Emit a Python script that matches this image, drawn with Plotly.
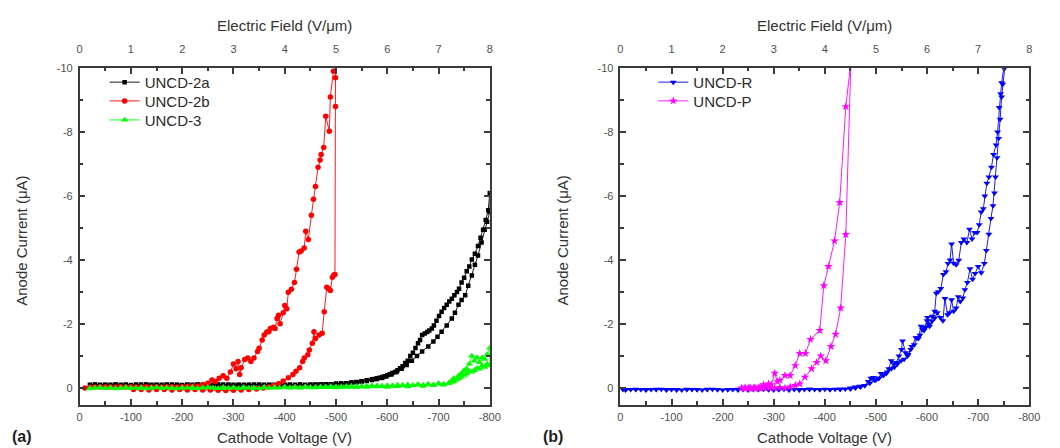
import plotly.graph_objects as go

# ---------------- data ----------------
# Panel (a)
V_2a = [-20, -30, -40, -50, -60, -70, -80, -90, -100, -110, -120, -130, -140, -150, -160, -170, -180, -190, -200,
        -210, -220, -230, -240, -250, -260, -270, -280, -290, -300, -310, -320, -330, -340, -350, -360, -370, -380,
        -390, -400, -410, -420, -430, -440, -450, -460, -470, -480, -490, -500, -510, -520, -530, -540, -550, -560,
        -570, -580, -590, -598, -608, -618, -628, -638, -648, -658, -668, -680, -690, -698, -706, -716, -726, -732,
        -739, -745, -752, -758, -765, -771, -777, -784, -790, -795, -800,
        -800, -797, -792, -787, -782, -777, -771, -765, -760, -755, -750, -745, -740, -736, -731, -726, -721, -716,
        -711, -706, -701, -696, -691, -687, -682, -678, -673, -668, -664, -660, -655, -650, -645, -640, -635, -630,
        -625, -620, -615, -610, -605, -600, -595, -590, -585, -580, -575, -570, -560, -550, -540, -530, -520, -510,
        -500, -490, -480, -470, -460, -450, -430, -410, -390, -370, -350, -330, -310, -290, -270, -250, -230, -210,
        -190, -170, -150, -130, -110, -90, -70, -50, -30]
I_2a = [-0.10, -0.11, -0.10, -0.09, -0.10, -0.11, -0.10, -0.10, -0.09, -0.10, -0.11, -0.10, -0.10, -0.09, -0.10,
        -0.10, -0.11, -0.10, -0.09, -0.10, -0.10, -0.11, -0.10, -0.10, -0.09, -0.10, -0.11, -0.10, -0.10, -0.09,
        -0.10, -0.10, -0.11, -0.10, -0.10, -0.09, -0.10, -0.11, -0.10, -0.10, -0.10, -0.11, -0.10, -0.10, -0.11,
        -0.11, -0.12, -0.12, -0.13, -0.14, -0.15, -0.16, -0.18, -0.20, -0.22, -0.25, -0.28, -0.31, -0.36, -0.42,
        -0.50, -0.60, -0.72, -0.85, -1.00, -1.14, -1.30, -1.45, -1.60, -1.76, -1.95, -2.17, -2.35, -2.60, -2.75,
        -2.90, -3.20, -3.52, -3.85, -4.14, -4.55, -4.95, -5.20, -5.50,
        -6.10, -5.56, -5.25, -4.95, -4.70, -4.44, -4.20, -4.02, -3.80, -3.65, -3.45, -3.30, -3.10, -3.00, -2.90,
        -2.79, -2.70, -2.60, -2.50, -2.38, -2.25, -2.10, -1.95, -1.86, -1.80, -1.75, -1.70, -1.66, -1.50, -1.40,
        -1.25, -1.10, -1.00, -0.85, -0.78, -0.68, -0.62, -0.55, -0.50, -0.47, -0.43, -0.40, -0.37, -0.34, -0.32,
        -0.30, -0.28, -0.27, -0.24, -0.21, -0.19, -0.17, -0.15, -0.14, -0.13, -0.12, -0.11, -0.11, -0.10, -0.10,
        -0.10, -0.10, -0.11, -0.10, -0.10, -0.09, -0.10, -0.10, -0.11, -0.10, -0.10, -0.10, -0.09, -0.10, -0.10,
        -0.11, -0.10, -0.10, -0.10, -0.10, -0.10]

V_2b = [-10, -20, -30, -40, -50, -60, -70, -80, -90, -100, -110, -120, -130, -140, -150, -160, -170, -180, -190,
        -200, -210, -220, -230, -240, -250, -258, -265, -272, -280, -287, -294, -300, -305, -309, -312, -315, -322,
        -328, -334, -340, -347, -350, -356, -360, -365, -369, -372, -378, -381, -385, -388, -391, -397, -400, -404,
        -407, -413, -419, -423, -428, -432, -438, -441, -446, -452, -456, -460, -465, -469, -471, -476, -480, -487,
        -489, -495, -498, -499, -499, -498, -496, -493, -489, -486, -482, -477, -473, -467, -460, -457, -454, -448,
        -445, -438, -435, -429, -422, -416, -407, -397, -388, -378, -368, -358, -345, -330, -315, -300, -285, -270,
        -255, -240, -225, -210, -195, -180, -165, -150, -135, -120, -105]
I_2b = [0.00, -0.02, -0.03, -0.03, -0.04, -0.03, -0.03, -0.04, -0.03, -0.04, -0.03, -0.03, -0.04, -0.03, -0.04,
        -0.03, -0.04, -0.04, -0.03, -0.04, -0.05, -0.05, -0.06, -0.10, -0.15, -0.25, -0.20, -0.30, -0.38, -0.30,
        -0.50, -0.75, -0.60, -0.83, -0.42, -0.63, -0.89, -0.94, -0.83, -0.94, -1.14, -1.24, -1.50, -1.66, -1.75,
        -1.76, -1.86, -1.90, -1.86, -2.17, -2.27, -2.01, -2.35, -2.58, -2.48, -2.99, -3.09, -3.30, -3.71, -4.25,
        -4.28, -4.38, -4.90, -4.64, -5.40, -5.90, -6.30, -6.90, -7.13, -7.30, -7.52, -8.50, -8.03, -9.10, -9.90,
        -10.40, -9.70, -8.80, -3.55, -3.53, -3.46, -3.05, -3.10, -3.15, -2.38, -1.71, -1.66, -1.55, -1.76, -1.40,
        -1.19, -1.04, -0.94, -0.83, -0.63, -0.52, -0.42, -0.32, -0.22, -0.13, -0.08, -0.03, 0.00, 0.03, 0.05,
        0.06, 0.07, 0.08, 0.07, 0.06, 0.06, 0.05, 0.06, 0.05, 0.06, 0.05, 0.05, 0.06, 0.05, 0.05]

V_3 = [-20, -30, -40, -50, -60, -70, -80, -90, -100, -110, -120, -130, -140, -150, -160, -170, -180, -190, -200,
       -210, -220, -230, -240, -250, -260, -270, -280, -290, -300, -310, -320, -330, -340, -350, -360, -370, -380,
       -390, -400, -410, -420, -430, -440, -450, -460, -470, -480, -490, -500, -510, -520, -530, -540, -550, -560,
       -570, -580, -590, -600, -610, -620, -630, -640, -650, -660, -670, -680, -690, -700, -710, -720, -725, -730,
       -735, -740, -745, -750, -755, -760, -765, -770, -775, -780, -785, -790, -795, -800,
       -800, -795, -790, -785, -780, -775, -770, -765, -760, -755, -750, -745, -740, -735, -730, -725, -720, -710,
       -700, -690, -680, -670, -660, -650, -640, -630, -620, -610, -600, -590, -580, -570, -560, -550, -540, -530,
       -520, -510, -500, -490, -480, -470, -460, -450, -440, -430, -420, -410, -400, -380, -360, -340, -320, -300,
       -280, -260, -240, -220, -200, -180, -160, -140, -120, -100, -80, -60, -40, -20]
I_3 = [0.02, 0.00, -0.02, 0.01, -0.01, 0.02, 0.00, -0.02, 0.01, 0.00, -0.01, 0.02, 0.00, -0.02, 0.01, -0.01, 0.00,
       0.02, -0.01, 0.00, -0.02, 0.01, 0.00, -0.02, 0.00, 0.01, -0.02, 0.00, -0.01, 0.01, -0.02, 0.00, -0.01, 0.01,
       -0.03, 0.00, -0.02, 0.00, -0.03, -0.01, -0.03, 0.00, -0.04, -0.02, -0.01, -0.04, -0.02, -0.05, -0.01, -0.04,
       -0.03, -0.06, -0.02, -0.05, -0.03, -0.07, -0.04, -0.06, -0.03, -0.07, -0.05, -0.09, -0.04, -0.08, -0.10,
       -0.06, -0.12, -0.08, -0.13, -0.10, -0.15, -0.22, -0.30, -0.28, -0.40, -0.45, -0.55, -0.60, -0.75, -1.00,
       -0.85, -0.95, -0.80, -0.95, -0.90, -1.05, -1.25,
       -0.70, -0.75, -0.65, -0.70, -0.60, -0.62, -0.55, -0.50, -0.52, -0.45, -0.40, -0.35, -0.30, -0.25, -0.20,
       -0.18, -0.15, -0.12, -0.14, -0.10, -0.12, -0.09, -0.11, -0.08, -0.10, -0.07, -0.09, -0.06, -0.08, -0.05,
       -0.07, -0.05, -0.06, -0.04, -0.05, -0.03, -0.05, -0.03, -0.04, -0.02, -0.04, -0.02, -0.03, -0.01, -0.03,
       -0.01, -0.02, 0.00, -0.02, 0.00, -0.01, 0.01, 0.00, -0.01, 0.01, 0.00, -0.01, 0.01, 0.00, 0.01, -0.01,
       0.00, 0.01, 0.00, 0.01, -0.01, 0.00, 0.01]

# Panel (b)
V_R = [-5, -10, -20, -30, -40, -50, -60, -70, -80, -90, -100, -110, -120, -130, -140, -150, -160, -170, -180, -190,
       -200, -210, -220, -230, -240, -250, -260, -270, -280, -290, -300, -310, -320, -330, -340, -350, -360, -370,
       -380, -390, -400, -410, -420, -430, -440, -450, -460, -470, -478, -485, -490, -495, -500, -505, -510, -515,
       -520, -525, -530, -535, -540, -545, -550, -552, -558, -563, -570, -578, -583, -588, -594, -597, -601, -604,
       -610, -615, -618, -622, -627, -632, -637, -641, -645, -648, -652, -657, -662, -667, -672, -678, -683, -688,
       -693, -698, -702, -706, -710, -713, -717, -721, -726, -730, -735, -738, -741, -744, -746, -750,
       -752, -748, -746, -743, -740, -737, -734, -732, -729, -725, -721, -716, -712, -706, -700, -694, -689, -684,
       -679, -674, -670, -665, -661, -657, -652, -648, -644, -640, -635, -631, -626, -620, -615, -610, -605, -600,
       -595, -591, -586, -581, -575, -568, -562, -555, -549, -542, -536, -530, -522, -514, -506, -497, -488, -478,
       -468, -459, -450, -430, -410, -390, -370, -350, -330, -310, -290, -270, -250, -230, -210, -190, -170, -150,
       -130, -110, -90, -70, -50, -30, -10]
I_R = [0.05, 0.06, 0.05, 0.04, 0.05, 0.06, 0.05, 0.05, 0.04, 0.06, 0.05, 0.05, 0.06, 0.04, 0.05, 0.05, 0.06, 0.05,
       0.04, 0.05, 0.06, 0.05, 0.05, 0.04, 0.05, 0.06, 0.05, 0.05, 0.04, 0.05, 0.06, 0.05, 0.04, 0.05, 0.05, 0.06,
       0.05, 0.04, 0.05, 0.05, 0.04, 0.05, 0.04, 0.04, 0.03, 0.03, 0.00, -0.03, -0.08, -0.20, -0.30, -0.33, -0.25,
       -0.30, -0.45, -0.40, -0.45, -0.60, -0.85, -0.75, -0.80, -1.00, -1.20, -1.47, -1.10, -1.05, -1.30, -1.57,
       -1.55, -1.93, -1.80, -1.88, -2.20, -1.99, -2.24, -2.40, -2.96, -3.01, -3.11, -3.55, -3.63, -3.89, -4.00,
       -4.50, -3.90, -3.85, -3.99, -4.55, -4.66, -4.55, -4.96, -4.66, -4.86, -4.86, -5.10, -5.50, -5.60, -6.00,
       -6.40, -6.60, -6.90, -7.30, -7.60, -8.00, -8.77, -9.20, -9.54, -10.00,
       -10.00, -9.50, -9.10, -8.40, -7.80, -7.20, -6.60, -6.10, -5.70, -5.30, -4.81, -4.30, -3.89, -3.60, -3.80,
       -3.58, -3.40, -3.73, -3.30, -3.07, -2.81, -2.70, -2.85, -2.50, -2.40, -2.76, -2.35, -2.29, -2.80, -2.10,
       -2.20, -2.35, -2.19, -2.09, -1.93, -2.10, -1.90, -1.83, -1.65, -1.57, -1.35, -1.20, -1.00, -0.90, -0.85,
       -0.75, -0.65, -0.60, -0.50, -0.40, -0.30, -0.24, -0.15, -0.08, -0.05, -0.03, 0.00, 0.04, 0.05, 0.05, 0.04,
       0.05, 0.06, 0.05, 0.05, 0.04, 0.05, 0.06, 0.05, 0.05, 0.04, 0.05, 0.05, 0.06, 0.05, 0.04, 0.05, 0.05, 0.05]

V_P = [-237, -245, -250, -255, -260, -265, -270, -275, -280, -285, -290, -295, -302, -307, -312, -322, -332, -342,
       -351, -362, -372, -390, -398, -407, -419, -429, -441, -451,
       -441, -431, -421, -412, -402, -392, -384, -374, -361, -351, -342, -332, -322, -312, -302, -292, -282, -272,
       -262, -252, -242]
I_P = [0.00, 0.00, 0.00, 0.00, 0.00, 0.00, 0.00, -0.03, -0.10, -0.05, -0.13, -0.10, -0.46, -0.20, -0.24, -0.39,
       -0.39, -0.70, -1.08, -1.08, -1.52, -1.80, -3.20, -3.80, -4.60, -5.80, -8.80, -10.20,
       -4.80, -2.50, -1.68, -1.30, -0.85, -1.00, -0.80, -0.60, -0.34, -0.13, -0.08, -0.03, 0.00, -0.02, 0.00, 0.00,
       0.00, 0.00, 0.00, 0.00, 0.00]

for a, b in [(V_2a, I_2a), (V_2b, I_2b), (V_3, I_3), (V_R, I_R), (V_P, I_P)]:
    assert len(a) == len(b), (len(a), len(b))

V_TICKS = [0, -100, -200, -300, -400, -500, -600, -700, -800]
V_TICKTEXT = ["0", "-100", "-200", "-300", "-400", "-500", "-600", "-700", "-800"]
V_MINOR = [-50, -150, -250, -350, -450, -550, -650, -750]
E_TICKS = [0, 1, 2, 3, 4, 5, 6, 7, 8]
E_MINOR = [0.5, 1.5, 2.5, 3.5, 4.5, 5.5, 6.5, 7.5]
I_TICKS = [-10, -8, -6, -4, -2, 0]
I_TICKTEXT = ["-10", "-8", "-6", "-4", "-2", "0"]
I_MINOR = [-9, -7, -5, -3, -1]

# ---------------- layout geometry ----------------
W, H = 1060, 448
def fx(x):
    return x / W
def fy(y):
    return 1 - y / H

LX = (77.7, 493.3)
RX = (625.7, 1040.0)
YT, YB = 63.0, 404.0

FONT = "Liberation Sans, Arial, sans-serif"
AX_COL = "#3a3a3a"
TICK_FONT = dict(family=FONT, size=11, color="#505050")

fig = go.Figure()

def add(x, y, name, color, symbol, size, xa, ya, legend):
    fig.add_trace(go.Scatter(
        x=x, y=y, name=name, mode="lines+markers", xaxis=xa, yaxis=ya, legend=legend,
        line=dict(color=color, width=0.9),
        marker=dict(color=color, symbol=symbol, size=size, line=dict(width=0)),
    ))

add(V_2a, I_2a, "UNCD-2a", "#000000", "square", 4.5, "x", "y", "legend")
add(V_2b, I_2b, "UNCD-2b", "#ff0000", "circle", 5.5, "x", "y", "legend2")
add(V_3, I_3, "UNCD-3", "#00ff00", "triangle-up", 6.5, "x", "y", "legend3")
add(V_R, I_R, "UNCD-R", "#0000ff", "triangle-down", 6, "x3", "y2", "legend4")
add(V_P, I_P, "UNCD-P", "#ff00ff", "star", 6.5, "x3", "y2", "legend5")

# invisible anchors for the top (electric-field) axes
fig.add_trace(go.Scatter(x=[None], y=[None], xaxis="x2", yaxis="y", showlegend=False, hoverinfo="skip",
                         legend="legend6"))
fig.add_trace(go.Scatter(x=[None], y=[None], xaxis="x4", yaxis="y2", showlegend=False, hoverinfo="skip",
                         legend="legend6"))

def bottom_axis(dom, anchor):
    return dict(domain=dom, anchor=anchor, range=[0, -800], tickmode="array", tickvals=V_TICKS,
                ticktext=V_TICKTEXT, ticks="inside", ticklen=6, tickwidth=1.5, tickcolor=AX_COL,
                minor=dict(tickmode="array", tickvals=V_MINOR, ticks="inside", ticklen=3.5, tickwidth=1.5,
                           tickcolor=AX_COL, showgrid=False),
                showline=True, linecolor=AX_COL, linewidth=1.6, showgrid=False, zeroline=False,
                tickfont=TICK_FONT, ticklabelstandoff=1, fixedrange=True)

def top_axis(over, anchor):
    return dict(overlaying=over, anchor=anchor, side="top", range=[0, 8], tickmode="array",
                tickvals=E_TICKS, ticktext=[str(t) for t in E_TICKS], ticks="inside", ticklen=6,
                tickwidth=1.5, tickcolor=AX_COL,
                minor=dict(tickmode="array", tickvals=E_MINOR, ticks="inside", ticklen=3.5, tickwidth=1.5,
                           tickcolor=AX_COL, showgrid=False),
                showline=True, linecolor=AX_COL, linewidth=1.6, showgrid=False, zeroline=False,
                tickfont=TICK_FONT, ticklabelstandoff=9, fixedrange=True)

def y_axis(anchor):
    return dict(domain=[fy(YB), fy(YT)], anchor=anchor, range=[0.52, -10], tickmode="array",
                tickvals=I_TICKS, ticktext=I_TICKTEXT, ticks="inside", ticklen=6, tickwidth=1.5,
                tickcolor=AX_COL, mirror="ticks",
                minor=dict(tickmode="array", tickvals=I_MINOR, ticks="inside", ticklen=3.5, tickwidth=1.5,
                           tickcolor=AX_COL, showgrid=False),
                showline=True, linecolor=AX_COL, linewidth=1.6, showgrid=False, zeroline=False,
                tickfont=TICK_FONT, ticklabelstandoff=3, fixedrange=True)

legend_common = dict(font=dict(family=FONT, size=15, color="#2a2a2a"), bgcolor="rgba(0,0,0,0)",
                     borderwidth=0, xanchor="left", yanchor="top", tracegroupgap=0, itemwidth=30)

ROWS = [81.7, 100.7, 120.0]
LEG_DY = 21
fig.update_layout(
    width=W, height=H, margin=dict(l=0, r=0, t=0, b=0),
    paper_bgcolor="white", plot_bgcolor="white",
    showlegend=True,
    xaxis=bottom_axis([fx(LX[0]), fx(LX[1])], "y"),
    xaxis2=top_axis("x", "y"),
    xaxis3=bottom_axis([fx(RX[0]), fx(RX[1])], "y2"),
    xaxis4=top_axis("x3", "y2"),
    yaxis=y_axis("x"),
    yaxis2=y_axis("x3"),
    legend=dict(x=fx(103), y=fy(ROWS[0] - LEG_DY), **legend_common),
    legend2=dict(x=fx(103), y=fy(ROWS[1] - LEG_DY), **legend_common),
    legend3=dict(x=fx(103), y=fy(ROWS[2] - LEG_DY), **legend_common),
    legend4=dict(x=fx(659), y=fy(ROWS[0] - LEG_DY), **legend_common),
    legend5=dict(x=fx(659), y=fy(ROWS[1] - LEG_DY), **legend_common),
    legend6=dict(visible=False),
)

TITLE_FONT = dict(family=FONT, size=15, color="#333333")
ann = []
for (x0, x1), lab, labx in [(LX, "(a)", 19), (RX, "(b)", 557)]:
    cx = (x0 + x1) / 2
    ann.append(dict(text="Electric Field (V/\u03bcm)", x=fx(cx), y=fy(20), xref="paper", yref="paper",
                    showarrow=False, font=TITLE_FONT, xanchor="center", yanchor="middle"))
    ann.append(dict(text="Cathode Voltage (V)", x=fx(cx), y=fy(437), xref="paper", yref="paper",
                    showarrow=False, font=TITLE_FONT, xanchor="center", yanchor="middle"))
    ann.append(dict(text="Anode Current (\u03bcA)", x=fx(x0 - 59), y=fy((YT + YB) / 2 + 4), xref="paper",
                    yref="paper", showarrow=False, font=TITLE_FONT, textangle=-90,
                    xanchor="center", yanchor="middle"))
    ann.append(dict(text="<b>" + lab + "</b>", x=fx(labx), y=fy(436), xref="paper", yref="paper",
                    showarrow=False, font=dict(family=FONT, size=16, color="#222222"),
                    xanchor="center", yanchor="middle"))
fig.update_layout(annotations=ann)

fig.write_html("out.html")
